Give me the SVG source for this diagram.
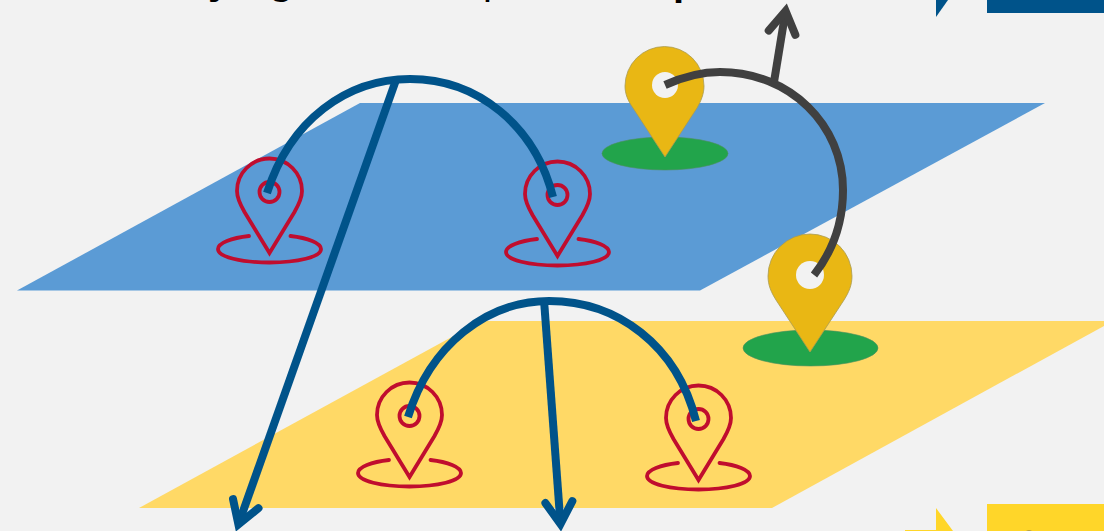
<svg xmlns="http://www.w3.org/2000/svg" width="1104" height="531" viewBox="0 0 1104 531">
<style>
.t{font-family:"Liberation Sans",Arial,sans-serif;font-size:40px;fill:#000}
.b{font-weight:700}
.rp{fill:none;stroke:#C00D2E;stroke-width:3.800;stroke-linejoin:miter;stroke-linecap:round}
.green{fill:#22A44B;stroke:#4f8f5f;stroke-width:.6}
.gold{fill:#E9B714;stroke:#a99a50;stroke-width:.8}
.hole{fill:#F2F2F2}
.blue{fill:none;stroke:#00538A;stroke-width:8}
.dark{fill:none;stroke:#404040;stroke-width:8}
</style>
<defs>
<path id="outline" d="M0 61L-25 20C-29 13-32.500 6-32.500-1A32.500 32.500 0 0 1 32.500-1C32.500 6 29 13 25 20Z"/>
<g id="redpin" class="rp">
<use href="#outline"/>
<circle r="10"/>
<path d="M-20.500 44C-38 46-51.500 51-51.500 57C-51.500 65-28 70.500 0 70.500C28 70.500 51.500 65 51.500 57C51.500 51 38 46 21 44"/>
</g>
<marker id="ab" markerUnits="userSpaceOnUse" markerWidth="60" markerHeight="60" refX="30" refY="30" orient="auto" viewBox="0 0 60 60">
<path d="M8 16.500L30 30L8 43.500" fill="none" stroke="#00538A" stroke-width="8" stroke-linecap="round"/>
</marker>
<marker id="ad" markerUnits="userSpaceOnUse" markerWidth="60" markerHeight="60" refX="30" refY="30" orient="auto" viewBox="0 0 60 60">
<path d="M8 16.500L30 30L8 43.500" fill="none" stroke="#404040" stroke-width="8" stroke-linecap="round"/>
</marker>
</defs>
<rect width="1104" height="531" fill="#F2F2F2"/>
<g id="heading">
<text class="t b" x="208" y="-6.500">y</text>
<text class="t b" x="269" y="-6">g</text>
<text class="t" x="483" y="-6">p</text>
<text class="t b" x="673" y="-5">p</text>
</g>
<g id="legend-top">
<path d="M936 0H948L936 17Z" fill="#00538A"/>
<rect x="987" y="0" width="117" height="13" fill="#00538A"/>
</g>
<g id="legend-bottom">
<path d="M905 531V530H936V508L953 531Z" fill="#FFD629"/>
<rect x="987" y="504" width="117" height="27" fill="#FFD629"/>
<path d="M1026 531Q1029 529 1032 531Z" fill="#B8A040"/>
</g>
<g id="plane-blue"><path d="M360 103H1045L700 290.500H17Z" fill="#5B9BD5"/></g>
<g id="plane-yellow"><path d="M481 321H1113L772 508H139Z" fill="#FFD966"/></g>
<g id="pin-red-1"><use href="#redpin" x="269.500" y="192"/></g>
<g id="pin-red-2"><use href="#redpin" x="557.500" y="195"/></g>
<g id="pin-red-3"><use href="#redpin" x="409.500" y="416"/></g>
<g id="pin-red-4"><use href="#redpin" x="698.500" y="419"/></g>
<g id="pin-gold-1">
<ellipse class="green" cx="665" cy="153.500" rx="63" ry="16.500"/>
<path class="gold" d="M665 157L633 108C628 101 625 94 625 86A39.500 39.500 0 0 1 704 86C704 94 701 101 697 108Z"/>
<circle class="hole" cx="665" cy="85" r="13"/>
</g>
<g id="pin-gold-2">
<ellipse class="green" cx="810.500" cy="348" rx="67.500" ry="18"/>
<path class="gold" d="M810 352L776 300C771 292 768 285 768 276A42 42 0 0 1 852 276C852 285 849 292 844 300Z"/>
<circle class="hole" cx="810" cy="275" r="14"/>
</g>
<g id="connectors">
<path class="blue" d="M267 193C290 120 347 79 410 79C477 79 535 125 553 197"/>
<path class="blue" d="M396 80L238.400 524.400" marker-end="url(#ab)"/>
<path class="blue" d="M408 417C430 345 487 301 549 301C617 301 677 345 696 421"/>
<path class="blue" d="M544 300L560.500 524" marker-end="url(#ab)"/>
<path class="dark" d="M665 85C685 76 702 72 720 72C790 72 843 125 843 190C843 225 832 252 814 275"/>
<path class="dark" d="M774 82L785.600 11" marker-end="url(#ad)"/>
</g>
</svg>
